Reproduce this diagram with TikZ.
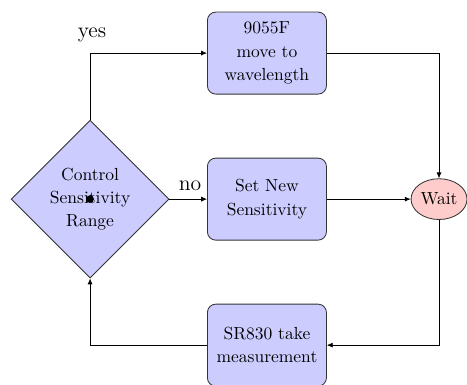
\documentclass[tikz,border=0pt]{standalone}
\usetikzlibrary{arrows.meta,shapes.geometric}
\begin{document}
\begin{tikzpicture}[font=\fontsize{10.5}{14}\selectfont,x=1cm,y=1cm,
      proc/.style={rectangle,rounded corners=5pt,draw=black!80,fill=blue!20,
                   align=center,text width=2.3cm,minimum width=2.51cm,
                   minimum height=1.73cm,inner sep=2pt,line width=0.5pt},
      dec/.style={diamond,aspect=1,draw=black!80,fill=blue!20,align=center,
                  minimum width=3.33cm,minimum height=3.33cm,inner sep=0pt,
                  line width=0.5pt},
      wt/.style={ellipse,draw=black!80,fill=red!20,minimum width=1.18cm,
                 minimum height=0.86cm,inner sep=0pt,line width=0.5pt},
      lbl/.style={font=\fontsize{13}{15}\selectfont},
      arr/.style={-{Latex[length=3.5pt,width=3pt]},line width=0.4pt}]
    \useasboundingbox (-1.90,-3.92) rectangle (7.95,4.20);
    % nodes
    \node[dec] (ctrl) at (0,0) {Control\\ Sensitivity\\ Range};
    \node[proc] (move) at (3.73,3.08) {9055F\\ move to\\ wavelength};
    \node[proc] (sens) at (3.73,0) {Set New\\ Sensitivity};
    \node[proc] (meas) at (3.73,-3.08) {SR830 take\\ measurement};
    \node[wt] (wait) at (7.36,0) {Wait};
    \fill (ctrl.center) circle (2.3pt);
    % connectors
    \draw[arr] (ctrl.north) |- (move.west);
    \draw[arr] (ctrl.east) -- (sens.west);
    \draw[arr] (move.east) -| (wait.north);
    \draw[arr] (sens.east) -- (wait.west);
    \draw[arr] (wait.south) |- (meas.east);
    \draw[arr] (meas.west) -| (ctrl.south);
    \node[lbl] (yes) at (0.04,3.46) {yes};
    \node[lbl] (no) at (2.11,0.29) {no};
  \end{tikzpicture}
\end{document}
